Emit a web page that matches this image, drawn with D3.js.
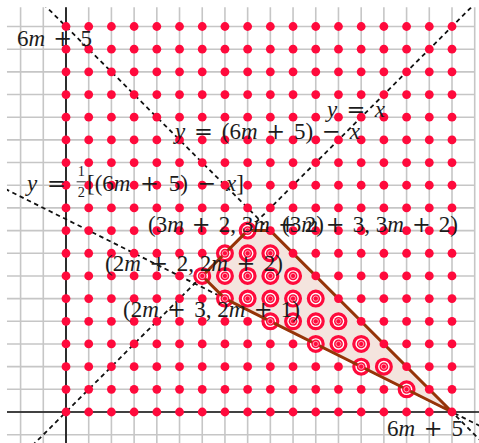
<!DOCTYPE html>
<html><head><meta charset="utf-8">
<script src="https://cdn.jsdelivr.net/npm/d3@7"></script>
<style>body{margin:0;background:#fff}svg{display:block}</style>
</head><body>
<svg id="c" width="479" height="443"></svg>
<script>
// ---------- data ----------
const latticeX = [0,1,2,3,4,5,6,7,8,9,10,11,12,13,14,15,16,17];
const latticeY = [0,1,2,3,4,5,6,7,8,9,10,11,12,13,14,15,16,17];
const gridX = [-2,-1,0,1,2,3,4,5,6,7,8,9,10,11,12,13,14,15,16,17,18];
const gridY = [-1,0,1,2,3,4,5,6,7,8,9,10,11,12,13,14,15,16,17];
const regionVertices = [[8,8],[9,8],[17,0],[7,5],[6,6]];
const circledPoints = [[8,8],[7,7],[8,7],[9,7],[6,6],[7,6],[8,6],[9,6],[10,6],
  [7,5],[8,5],[9,5],[10,5],[11,5],[9,4],[10,4],[11,4],[12,4],
  [11,3],[12,3],[13,3],[13,2],[14,2],[15,1]];
const lineYeqX = [[-3,-3],[19,19]];
const lineSum = [[-1,18],[19,-2]];
const lineHalf = [[-3,10],[19,-1]];
const labelTexts = ["6m+5","y=x","y=(6m+5)−x","y=½[(6m+5)−x]",
  "(3m+2,3m+2)","(3m+3,3m+2)","(2m+2,2m+2)","(2m+3,2m+1)","6m+5"];

// ---------- layout ----------
const svg = d3.select('#c');
const x = d3.scaleLinear().domain([0,17]).range([66,452]);
const y = d3.scaleLinear().domain([0,17]).range([412,26.5]);
const X0 = -2.6, X1 = 18, Y0 = -1.7, Y1 = 17.85;

svg.append('defs').append('clipPath').attr('id','clip')
  .append('rect').attr('x', x(X0)).attr('y', y(Y1))
  .attr('width', x(18.4)-x(X0)).attr('height', y(Y0)-y(Y1));

// grid
const grid = svg.append('g').attr('stroke','#c6c6c6').attr('stroke-width',1.6);
grid.selectAll('.v').data(gridX).join('line')
  .attr('x1', d=>x(d)).attr('x2', d=>x(d)).attr('y1', y(Y0)).attr('y2', y(Y1));
grid.selectAll('.h').data(gridY).join('line')
  .attr('y1', d=>y(d)).attr('y2', d=>y(d)).attr('x1', x(X0)).attr('x2', x(X1));

// axes
const ax = svg.append('g').attr('stroke','#111').attr('stroke-width',1.7);
ax.append('line').attr('x1', x(X0)).attr('x2', x(18.5)).attr('y1', y(0)).attr('y2', y(0));
ax.append('line').attr('x1', x(0)).attr('x2', x(0)).attr('y1', y(Y0)).attr('y2', y(Y1));

// dashed lines
const lg = svg.append('g').attr('clip-path','url(#clip)');
const lineGen = d3.line().x(d=>x(d[0])).y(d=>y(d[1]));
[lineYeqX, lineSum, lineHalf].forEach(p => {
  lg.append('path').attr('d', lineGen(p)).attr('fill','none')
    .attr('stroke','#111').attr('stroke-width',1.8).attr('stroke-dasharray','4.5,3.6');
});

// region fill
const polyD = lineGen(regionVertices) + 'Z';
svg.append('path').attr('d', polyD).attr('fill','#f4e4de').attr('stroke','none');

// rings for circled points
const RED = '#ff0a3c';
svg.append('g').selectAll('circle').data(circledPoints).join('circle')
  .attr('cx', d=>x(d[0])).attr('cy', d=>y(d[1])).attr('r', 7.4)
  .attr('fill','#fff').attr('stroke', RED).attr('stroke-width', 3.2);

// region outline
svg.append('path').attr('d', polyD).attr('fill','none')
  .attr('stroke','#963408').attr('stroke-width',3).attr('stroke-linejoin','round');

// lattice dots
const pts = [];
latticeY.forEach(j => latticeX.forEach(i => pts.push([i,j])));
svg.append('g').selectAll('circle').data(pts).join('circle')
  .attr('cx', d=>x(d[0])).attr('cy', d=>y(d[1])).attr('r', 4.4).attr('fill', RED);

// inner highlight for circled points
svg.append('g').selectAll('circle').data(circledPoints).join('circle')
  .attr('cx', d=>x(d[0])).attr('cy', d=>y(d[1])).attr('r', 2.6)
  .attr('fill','none').attr('stroke','#ffc4cf').attr('stroke-width',0.8);

// ---------- labels ----------
const FS = 23;
const labelLayout = [
  {left:17, base:46, w:75},
  {left:327, base:117, w:58},
  {left:175, base:139, w:185},
  {left:27, base:191, w:217},
  {left:148, base:232, w:176},
  {left:282, base:232, w:176},
  {left:105, base:271, w:178},
  {left:123, base:317, w:177},
  {left:387, base:436, w:76}
];
const tg = svg.append('g').attr('fill','#1c1c1c');
function drawLabel(str, L) {
  const g = tg.append('g');
  const toks = [];
  for (const ch of str) {
    if (ch === '½') toks.push({kind:'frac'});
    else if (/[a-z]/.test(ch)) toks.push({kind:'var', ch});
    else if ('+−='.includes(ch)) toks.push({kind:'op', ch});
    else if (ch === ',') toks.push({kind:'comma', ch});
    else toks.push({kind:'sym', ch});
  }
  toks.forEach(t => {
    if (t.kind === 'frac') { t.w = FS*0.5; return; }
    t.el = g.append('text').attr('y', L.base).text(t.ch)
      .attr('font-family', t.kind==='op' ? 'DejaVu Serif' : 'Liberation Serif')
      .attr('font-style', t.kind==='var' ? 'italic' : 'normal')
      .attr('font-size', t.kind==='op' ? FS*0.98 : FS);
    t.w = t.el.node().getComputedTextLength();
  });
  const sumW = d3.sum(toks, t=>t.w);
  const nOp = toks.filter(t=>t.kind==='op').length;
  const nC = toks.filter(t=>t.kind==='comma').length;
  const gap = Math.max(1, (L.w - sumW) / (2*nOp + 0.7*nC));
  let cx = L.left;
  toks.forEach(t => {
    if (t.kind === 'op') cx += gap;
    if (t.kind === 'frac') {
      const mid = cx + t.w/2;
      g.append('text').attr('x', mid).attr('y', L.base - FS*0.66).attr('text-anchor','middle')
        .attr('font-family','Liberation Serif').attr('font-size', FS*0.62).text('1');
      g.append('text').attr('x', mid).attr('y', L.base + FS*0.27).attr('text-anchor','middle')
        .attr('font-family','Liberation Serif').attr('font-size', FS*0.62).text('2');
      g.append('line').attr('x1', mid - FS*0.2).attr('x2', mid + FS*0.2)
        .attr('y1', L.base - FS*0.4).attr('y2', L.base - FS*0.4)
        .attr('stroke','#1c1c1c').attr('stroke-width',0.9);
    } else {
      t.el.attr('x', cx);
    }
    cx += t.w;
    if (t.kind === 'op') cx += gap;
    if (t.kind === 'comma') cx += gap*0.7;
  });
}
labelTexts.forEach((s,i) => drawLabel(s, labelLayout[i]));
</script>
</body></html>
